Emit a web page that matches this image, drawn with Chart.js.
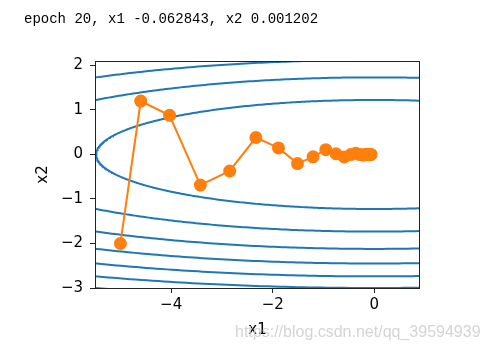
<!DOCTYPE html>
<html>
<head>
<meta charset="utf-8">
<script src="https://cdn.jsdelivr.net/npm/chart.js@4"></script>
<style>
  html, body { margin: 0; padding: 0; background: #fff; }
  #wrap { position: relative; width: 487px; height: 352px; }
  #graf { position: absolute; left: 0; top: 0; }
  #titlu { position: absolute; left: 24px; top: 11px; font: 14px 'Liberation Mono', monospace; color: #000; white-space: pre; }
  #marca { position: absolute; left: 235px; top: 323px; font: 16px 'Liberation Sans', Arial, sans-serif; color: rgba(205,205,205,0.85); white-space: pre; }
</style>
</head>
<body>
<div id="wrap">
  <canvas id="graf" width="487" height="352"></canvas>
  <div id="titlu">epoch 20, x1 -0.062843, x2 0.001202</div>
  <div id="marca">https://blog.csdn.net/qq_39594939</div>
</div>
<script>
// traiectoria (x1, x2) pe cele 21 de pasi
const x1Traseu = [-5, -4.6, -4.032, -3.425, -2.848, -2.332, -1.887, -1.513, -1.206, -0.955,
  -0.754, -0.593, -0.465, -0.364, -0.284, -0.221, -0.172, -0.134, -0.104, -0.081, -0.063];
const x2Traseu = [-2, 1.2, 0.88, -0.688, -0.371, 0.381, 0.147, -0.205, -0.053, 0.108,
  0.016, -0.056, -0.002, 0.028, -0.002, -0.014, 0.002, 0.007, -0.002, -0.003, 0.001];

// nivelele conturului pentru f = 0.1*x1^2 + 2*x2^2
const nivele = [3, 6, 9, 12, 15, 18, 21];

const xTicks = [-4, -2, 0];
const yTicks = [-3, -2, -1, 0, 1, 2];

const albastru = '#1f77b4';
const portocaliu = '#ff7f0e';

function contur(c) {
  const pts = [];
  const a = Math.sqrt(c / 0.1), b = Math.sqrt(c / 2);
  for (let i = 0; i <= 720; i++) {
    const t = Math.PI * 2 * i / 720;
    pts.push({ x: -a * Math.cos(t), y: b * Math.sin(t) });
  }
  return pts;
}

const seturi = nivele.map(c => ({
  data: contur(c),
  borderColor: albastru,
  borderWidth: 2,
  pointRadius: 0,
  fill: false,
  clip: 0,
  order: 2
}));

seturi.push({
  data: x1Traseu.map((x, i) => ({ x: x, y: x2Traseu[i] })),
  borderColor: portocaliu,
  backgroundColor: portocaliu,
  pointBackgroundColor: portocaliu,
  pointBorderColor: portocaliu,
  borderWidth: 2,
  pointRadius: 5.5,
  fill: false,
  order: 1
});

const chenar = {
  id: 'chenar',
  afterDatasetsDraw(chart) {
    const { ctx, chartArea: a } = chart;
    ctx.save();
    ctx.strokeStyle = '#222';
    ctx.lineWidth = 1;
    ctx.strokeRect(Math.round(a.left) + 0.5, Math.round(a.top) + 0.5,
      Math.round(a.right - a.left) - 1, Math.round(a.bottom - a.top));
    ctx.restore();
  }
};

const minus = v => (v < 0 ? '\u2212' + Math.abs(v) : String(v));
const font = { family: 'DejaVu Sans', size: 15 };

new Chart(document.getElementById('graf').getContext('2d'), {
  type: 'line',
  data: { datasets: seturi },
  options: {
    responsive: false,
    animation: false,
    layout: { padding: { left: 0, top: 61, right: 67, bottom: 0 } },
    plugins: { legend: { display: false }, tooltip: { enabled: false } },
    scales: {
      x: {
        type: 'linear',
        min: -5.5,
        max: 0.9,
        afterBuildTicks: s => { s.ticks = xTicks.map(v => ({ value: v })); },
        afterFit: s => { s.height = 64; },
        grid: { display: true, drawOnChartArea: false, drawTicks: true, tickLength: 5, tickColor: '#222' },
        border: { display: false },
        ticks: { font: font, color: '#000', padding: 3, maxRotation: 0, callback: minus },
        title: { display: true, text: 'x1', font: font, color: '#000', padding: { top: 0, bottom: 13 } }
      },
      y: {
        type: 'linear',
        min: -3,
        max: 2.1,
        afterBuildTicks: s => { s.ticks = yTicks.map(v => ({ value: v })); },
        afterFit: s => { s.width = 95; },
        grid: { display: true, drawOnChartArea: false, drawTicks: true, tickLength: 5, tickColor: '#222' },
        border: { display: false },
        ticks: { font: font, color: '#000', padding: 7, callback: minus },
        title: { display: true, text: 'x2', font: font, color: '#000', padding: { top: 34, bottom: 0 } }
      }
    }
  },
  plugins: [chenar]
});
</script>
</body>
</html>
